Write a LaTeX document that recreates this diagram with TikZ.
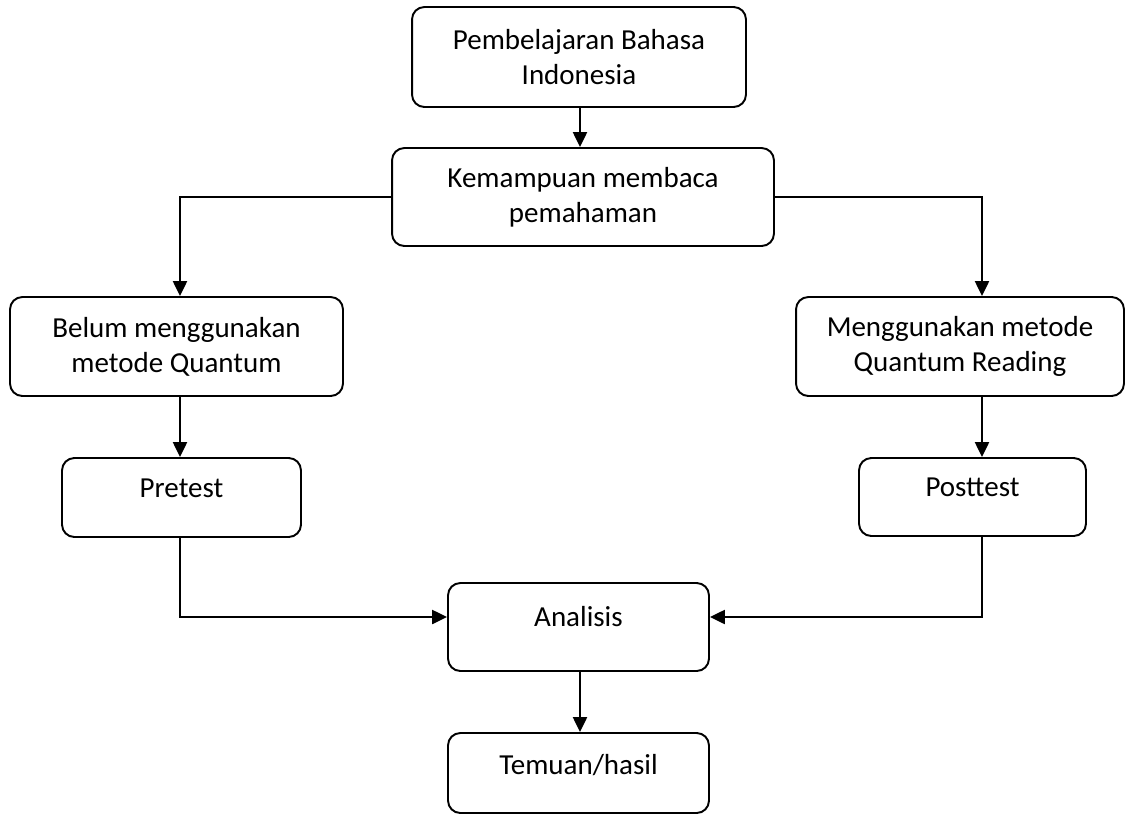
\documentclass[tikz,border=0pt]{standalone}
\usepackage{fontspec}
\setmainfont{Carlito}
\usepackage{xcolor}
\usepackage{tikz}
\usetikzlibrary{arrows.meta}

\tikzset{
    stepbox/.style={draw, line width=1.1pt, rounded corners=7pt, align=center,
        inner sep=2pt, font=\fontsize{16.5}{19.8}\selectfont},
    arr/.style={line width=1.1pt, -{Triangle[length=8.5pt,width=8pt]}},
    link/.style={line width=1.1pt}
}

\begin{document}
\begin{tikzpicture}[x=0.02cm, y=-0.02cm]
        \useasboundingbox (0,0) rectangle (1127,816);
        %% boxes
        \node[stepbox, minimum width=6.68cm, minimum height=2.00cm] (pbi) at (579,57) {Pembelajaran Bahasa\\Indonesia};
        \node[stepbox, minimum width=7.64cm, minimum height=1.96cm] (kmp) at (583,197) {Kemampuan membaca\\pemahaman};
        \node[stepbox, minimum width=6.66cm, minimum height=1.98cm] (belum) at (176.5,346.5) {Belum menggunakan\\metode Quantum};
        \node[stepbox, minimum width=6.56cm, minimum height=1.98cm] (pakai) at (960,346.5) {Menggunakan metode\\Quantum Reading};
        \node[stepbox, minimum width=4.78cm, minimum height=1.58cm, text depth=10.7pt] (pre) at (181.5,497.5) {Pretest};
        \node[stepbox, minimum width=4.54cm, minimum height=1.56cm, text depth=10.7pt] (post) at (972.5,497) {Posttest};
        \node[stepbox, minimum width=5.22cm, minimum height=1.76cm, text depth=12.5pt] (ana) at (578.5,627) {Analisis};
        \node[stepbox, minimum width=5.22cm, minimum height=1.60cm, text depth=10pt] (tem) at (578.5,773) {Temuan/hasil};
        %% guide lines
        \coordinate (lx) at (180,0);
        \coordinate (rx) at (982,0);
        \coordinate (cx) at (580,0);
        \coordinate (my) at (0,617);
        %% connectors
        \draw[arr] (cx |- pbi.south) -- (cx |- kmp.north);
        \draw[arr] (kmp.west) -| (lx |- belum.north);
        \draw[arr] (kmp.east) -| (rx |- pakai.north);
        \draw[arr] (lx |- belum.south) -- (lx |- pre.north);
        \draw[arr] (rx |- pakai.south) -- (rx |- post.north);
        \draw[arr] (lx |- pre.south) |- (ana.west |- my);
        \draw[arr] (rx |- post.south) |- (ana.east |- my);
        \draw[arr] (cx |- ana.south) -- (cx |- tem.north);
    \end{tikzpicture}
\end{document}
